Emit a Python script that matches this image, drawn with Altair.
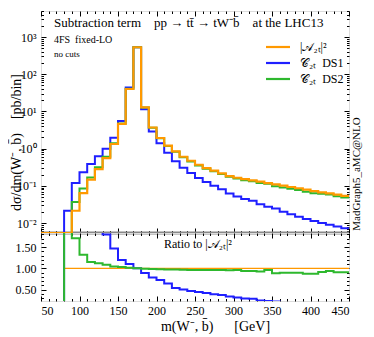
import altair as alt
import numpy as np
import pandas as pd

# ---------------- data (bin lower edges, 10 GeV bins) ----------------
edges = list(range(50, 450, 10))
amp2 = [0, 0, 0, 0.0015, 0.0214, 0.064, 0.146, 0.283, 0.558, 1.33,
        4.6, 40.0, 530.0, 12.9, 3.7, 1.93, 1.2, 0.845, 0.605, 0.473,
        0.369, 0.301, 0.255, 0.217, 0.183, 0.165, 0.152, 0.141, 0.130, 0.119,
        0.110, 0.101, 0.093, 0.086, 0.079, 0.072, 0.067, 0.0625, 0.058, 0.054]
ds1 = [0, 0, 0, 0.0214, 0.119, 0.231, 0.385, 0.62, 1.0, 1.95,
       5.5, 44.0, 530.0, 11.5, 2.9, 1.4, 0.77, 0.455, 0.305, 0.222,
       0.163, 0.127, 0.100, 0.081, 0.062, 0.052, 0.044, 0.040, 0.032, 0.0275,
       0.0245, 0.0201, 0.0171, 0.0148, 0.0128, 0.0113, 0.0100, 0.0090, 0.0081, 0.0073]
ds2 = [0, 0, 0, 0.004, 0.0365, 0.0845, 0.168, 0.317, 0.605, 1.39,
       4.74, 40.6, 530.0, 12.77, 3.64, 1.89, 1.17, 0.82, 0.584, 0.454,
       0.354, 0.289, 0.245, 0.208, 0.175, 0.158, 0.142, 0.132, 0.120, 0.114,
       0.097, 0.0907, 0.0835, 0.0772, 0.0691, 0.063, 0.0612, 0.0586, 0.0525, 0.0489]
names = ["|𝒜₂ₜ|²", "𝒞₂ₜ  DS1", "𝒞₂ₜ  DS2"]
colors = ["#ff9900", "#1f1fff", "#2eb82e"]

x_major = [50, 100, 150, 200, 250, 300, 350, 400, 450]
x_minor = [v for v in range(50, 451, 10) if v % 50]
y_major = [1e-2, 1e-1, 1.0, 1e1, 1e2, 1e3]
y_minor = [k * 10.0 ** e for e in range(-3, 4) for k in range(2, 10)
           if 0.0054 <= k * 10.0 ** e <= 5000]
r_major = [0.5, 1.0, 1.5]
r_minor = [round(0.3 + 0.1 * i, 1) for i in range(16) if round(0.3 + 0.1 * i, 1) not in r_major]

W, H1, H2 = 308, 222, 68
SERIF = "Liberation Serif"
YMIN = 0.0054
SP = "\u2002"


def steps(vals):
    xs = edges + [450]
    ys = list(vals) + [vals[-1]]
    # empty / tiny bins are drawn along the lower frame, as in the original plot
    return pd.DataFrame({"m": xs, "v": [max(y, YMIN) for y in ys]})


def ratio_steps(vals, start):
    xs, rs = [], []
    for e, v, o in zip(edges, vals, amp2):
        if e < start:
            continue
        xs.append(e)
        rs.append(v / o if o > 0 else 0.0)
    xs.append(450)
    rs.append(rs[-1])
    return pd.DataFrame({"m": xs, "r": rs})


xsc = alt.Scale(domain=[50, 450], nice=False, zero=False)
ysc = alt.Scale(type="log", domain=[YMIN, 5000], nice=False)
rsc = alt.Scale(domain=[0.232, 1.83], nice=False, zero=False)


def ax(orient, values, size, labels=False, **kw):
    return alt.Axis(orient=orient, values=values, tickSize=size, offset=-size,
                    domain=False, grid=False, labels=labels, tickColor="black",
                    tickWidth=1, **kw)


sup_expr = ("datum.value < 0.05 ? '10⁻²' : datum.value < 0.5 ? '10⁻¹' : "
            "datum.value < 5 ? '10⁰' : datum.value < 50 ? '10¹' : "
            "datum.value < 500 ? '10²' : '10³'")

# ---------------- main panel ----------------
one = pd.DataFrame({"a": [0]})

sep = alt.Chart(one).mark_rule(color="#888888", strokeWidth=3).encode(
    x=alt.value(0), x2=alt.value(W), y=alt.value(H1))

inv = alt.Chart(steps(amp2)).mark_line(opacity=0, clip=True).encode(
    x=alt.X("m:Q", scale=xsc, axis=ax("top", x_minor, 2.5, title=None)),
    y=alt.Y("v:Q", scale=ysc, axis=ax("right", y_minor, 2.5, title=None)))

blue = alt.Chart(steps(ds1)).mark_line(interpolate="step-after", clip=True,
                                        color=colors[1], strokeWidth=2).encode(
    x=alt.X("m:Q", scale=xsc, axis=ax("bottom", x_major, 5, title=None)),
    y=alt.Y("v:Q", scale=ysc,
            axis=ax("left", y_major, 5, labels=True, labelExpr=sup_expr,
                    labelFont=SERIF, labelFontSize=12, labelPadding=5,
                    title="dσ/dm(W⁻, b̄)" + SP * 2 + "[pb/bin]", titleFont=SERIF,
                    titleFontSize=14, titleFontWeight="normal",
                    titleX=-30, titleY=131, titleAngle=270, titleBaseline="middle",
                    titleAlign="center")))

green = alt.Chart(steps(ds2)).mark_line(interpolate="step-after", clip=True,
                                         color=colors[2], strokeWidth=2).encode(
    x=alt.X("m:Q", scale=xsc, axis=ax("bottom", x_minor, 2.5, title=None)),
    y=alt.Y("v:Q", scale=ysc, axis=ax("left", y_minor, 2.5, title=None)))

orange = alt.Chart(steps(amp2)).mark_line(interpolate="step-after", clip=True,
                                           color=colors[0], strokeWidth=2.2).encode(
    x=alt.X("m:Q", scale=xsc, axis=ax("top", x_major, 5, title=None)),
    y=alt.Y("v:Q", scale=ysc, axis=ax("right", y_major, 5, title=None)))


def txt(s, x, y, size, **kw):
    return alt.Chart(one).mark_text(text=s, font=SERIF, fontSize=size, align="left",
                                    baseline="middle", color="black", **kw).encode(
        x=alt.value(x), y=alt.value(y))


title_t = txt("Subtraction term" + SP * 2 + "pp → tt̄ → tW⁻b̄" + SP * 2 + "at the LHC13", 13, 12, 13)
fs_t = txt("4FS" + SP + "fixed-LO", 13, 29, 10)
nc_t = txt("no cuts", 13, 43, 9)
mg_t = alt.Chart(one).mark_text(text="MadGraph5_aMC@NLO", font=SERIF, fontSize=11,
                                angle=270, align="center", baseline="middle").encode(
    x=alt.value(W + 8), y=alt.value(163))

leg_y = [36, 52, 68]
leg = []
for nm, col, yy in zip(names, colors, leg_y):
    leg.append(alt.Chart(one).mark_rule(color=col, strokeWidth=2.2).encode(
        x=alt.value(225), x2=alt.value(249), y=alt.value(yy)))
    leg.append(txt(nm.replace("  ", SP), 259, yy, 12))

main = alt.layer(sep, inv, blue, green, orange, title_t, fs_t, nc_t, mg_t, *leg).resolve_axis(
    x="independent", y="independent").properties(width=W, height=H1)

# ---------------- ratio panel ----------------
r_or = ratio_steps(amp2, 80)
r_bl = ratio_steps(ds1, 70)
r_gr = ratio_steps(ds2, 70)

rinv = alt.Chart(r_or).mark_line(opacity=0, clip=True).encode(
    x=alt.X("m:Q", scale=xsc, axis=ax("top", x_minor, 2.5, title=None)),
    y=alt.Y("r:Q", scale=rsc, axis=ax("right", r_minor, 2.5, title=None)))
rinv2 = alt.Chart(r_or).mark_line(opacity=0, clip=True).encode(
    x=alt.X("m:Q", scale=xsc, axis=ax("top", x_major, 5, title=None)),
    y=alt.Y("r:Q", scale=rsc, axis=ax("right", r_major, 5, title=None)))

ror = alt.Chart(r_or).mark_line(interpolate="step-after", clip=True,
                                color=colors[0], strokeWidth=1.3).encode(
    x=alt.X("m:Q", scale=xsc,
            axis=ax("bottom", x_major, 5, labels=True, labelFont=SERIF, labelFontSize=12,
                    labelPadding=4, title="m(W⁻, b̄)" + SP * 3 + "[GeV]", titleFont=SERIF,
                    titleFontSize=14, titleFontWeight="normal", titleX=174, titleY=30,
                    titleBaseline="middle", titleAlign="center")),
    y=alt.Y("r:Q", scale=rsc,
            axis=ax("left", r_major, 5, labels=True, format=".2f", labelFont=SERIF,
                    labelFontSize=12, labelPadding=5, title=None)))

rbl = alt.Chart(r_bl).mark_line(interpolate="step-after", clip=True,
                                color=colors[1], strokeWidth=2).encode(
    x=alt.X("m:Q", scale=xsc, axis=ax("bottom", x_minor, 2.5, title=None)),
    y=alt.Y("r:Q", scale=rsc, axis=ax("left", r_minor, 2.5, title=None)))

rgr = alt.Chart(r_gr).mark_line(interpolate="step-after", clip=True,
                                color=colors[2], strokeWidth=2).encode(
    x=alt.X("m:Q", scale=xsc, axis=None),
    y=alt.Y("r:Q", scale=rsc, axis=None))

ratio_t = txt("Ratio to |𝒜₂ₜ|²", 123, 11, 12)

ratio = alt.layer(rinv, rinv2, ror, rbl, rgr, ratio_t).resolve_axis(
    x="independent", y="independent").properties(width=W, height=H2)

chart = alt.vconcat(main, ratio, spacing=0, bounds="flush").properties(
    padding={"left": 0, "top": 2, "right": 0, "bottom": 0}
).configure_view(stroke="black", strokeWidth=1.2).configure(font=SERIF)

chart.save("out.html", embed_options={"renderer": "svg", "actions": False})
